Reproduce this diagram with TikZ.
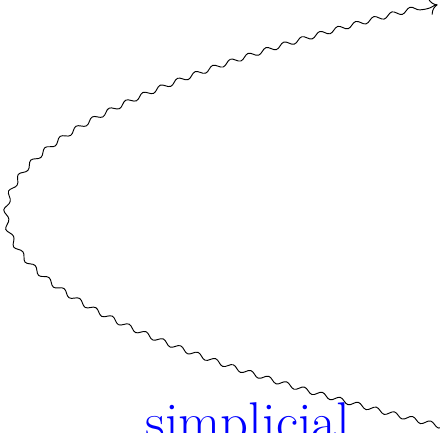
\documentclass[tikz,border=0pt]{standalone}
\usetikzlibrary{arrows.meta,decorations.pathmorphing}
\tikzset{
  wavy/.style={-{To[scale=1.5]},line width=0.45pt,decorate,
    decoration={snake,amplitude=1.2pt,segment length=9pt}},
  lbl/.style={text=blue,font=\fontsize{26.3}{30}\selectfont,inner sep=0pt,anchor=base},
}
\begin{document}
\begin{tikzpicture}
  \useasboundingbox (-0.17,-3.68) rectangle (7.28,3.64);
  % ends of the curve
  \coordinate (start) at (7.36,-3.59);
  \coordinate (tip) at (7.24,3.56);
  \draw[wavy] (start) .. controls (-2.41,-1.21) and (-2.45,1.18) .. (tip);
  \node[lbl] (word) at (4.03,-3.81) {simplicial};
\end{tikzpicture}
\end{document}
